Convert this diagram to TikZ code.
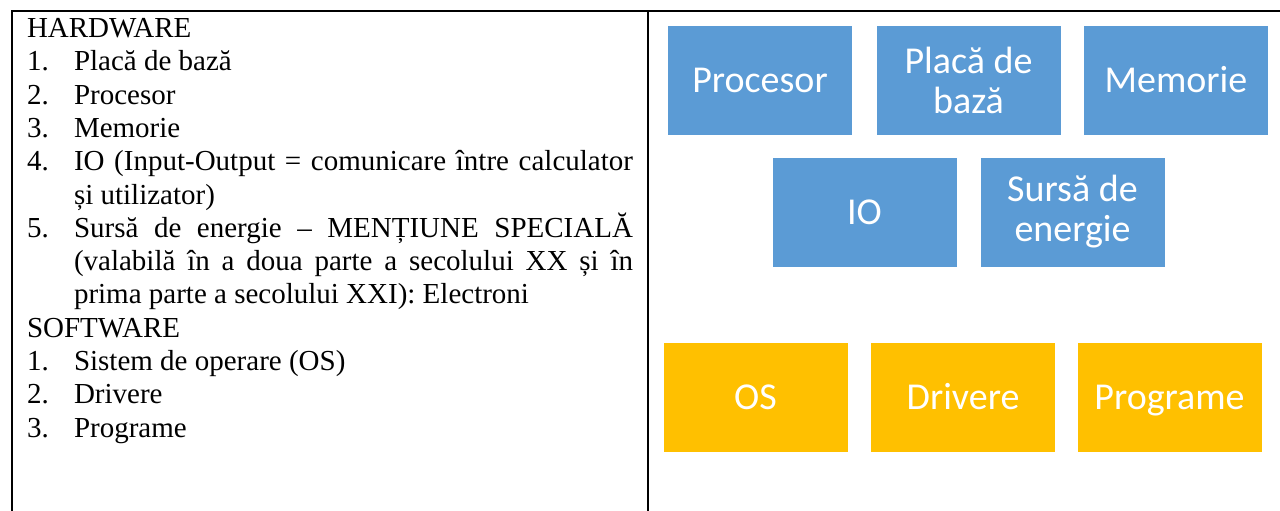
\documentclass[tikz,border=0pt]{standalone}
\usepackage{fontspec}
\setmainfont{Liberation Serif}
\newfontfamily\boxfont{Carlito}
\definecolor{hwblue}{HTML}{5B9BD5}
\definecolor{swgold}{HTML}{FFC000}
\newlength{\jw}
\setlength{\jw}{419.25pt}
\begin{document}
\begin{tikzpicture}[x=0.75pt,y=-0.75pt,
  txt/.style={anchor=base west,inner sep=0pt,outer sep=0pt,font=\fontsize{21.75}{26}\selectfont},
  card/.style={rectangle,inner sep=0pt,minimum width=139pt,minimum height=82.5pt,text=white,
    draw=white,line width=0.5pt,align=center,
    font=\boxfont\fontsize{28.5}{30}\selectfont},
  oneline/.style={text height=20.5pt,text depth=1.7pt},
  hwcard/.style={card,fill=hwblue},
  swcard/.style={card,fill=swgold}]
\tikzset{rule/.style={line width=1.5pt,line cap=rect}}
\useasboundingbox (0,0) rectangle (1280,510);
% table lines
\coordinate (tl) at (12,11);
\coordinate (tr) at (1280,11);
\coordinate (bl) at (12,510);
\coordinate (dm) at (648,11);
\coordinate (db) at (648,510);
\draw[rule] (bl) -- (tl) -- (tr);
\draw[rule] (dm) -- (db);
% left text
\node[txt] (hw) at (27,37.5) {HARDWARE};
\node[txt] (n1) at (27,70.8) {1.};
\node[txt] (t1) at (74,70.8) {Placă de bază};
\node[txt] (n2) at (27,104.1) {2.};
\node[txt] (t2) at (74,104.1) {Procesor};
\node[txt] (n3) at (27,137.4) {3.};
\node[txt] (t3) at (74,137.4) {Memorie};
\node[txt] (n4) at (27,170.7) {4.};
\node[txt] (t4a) at (74,170.7) {\makebox[\jw][s]{IO (Input-Output = comunicare între calculator}};
\node[txt] (t4b) at (74,204.0) {și utilizator)};
\node[txt] (n5) at (27,237.3) {5.};
\node[txt] (t5a) at (74,237.3) {\makebox[\jw][s]{Sursă de energie – MENȚIUNE SPECIALĂ}};
\node[txt] (t5b) at (74,270.6) {\makebox[\jw][s]{(valabilă în a doua parte a secolului XX și în}};
\node[txt] (t5c) at (74,303.9) {prima parte a secolului XXI): Electroni};
\node[txt] (sw) at (27,337.2) {SOFTWARE};
\node[txt] (m1) at (27,370.5) {1.};
\node[txt] (s1) at (74,370.5) {Sistem de operare (OS)};
\node[txt] (m2) at (27,403.8) {2.};
\node[txt] (s2) at (74,403.8) {Drivere};
\node[txt] (m3) at (27,437.1) {3.};
\node[txt] (s3) at (74,437.1) {Programe};
% right boxes
\node[hwcard,oneline] (proc) at (760,80) {Procesor};
\node[hwcard] (placa) at (968.5,80) {Placă de\\bază};
\node[hwcard,oneline] (mem) at (1176,80) {Memorie};
\node[hwcard,oneline] (io) at (864.5,212) {IO};
\node[hwcard] (sursa) at (1072.5,212) {Sursă de\\energie};
\node[swcard,oneline] (os) at (755.5,397) {OS};
\node[swcard,oneline] (drv) at (963,397) {Drivere};
\node[swcard,oneline] (prog) at (1169.5,397) {Programe};
\end{tikzpicture}
\end{document}
